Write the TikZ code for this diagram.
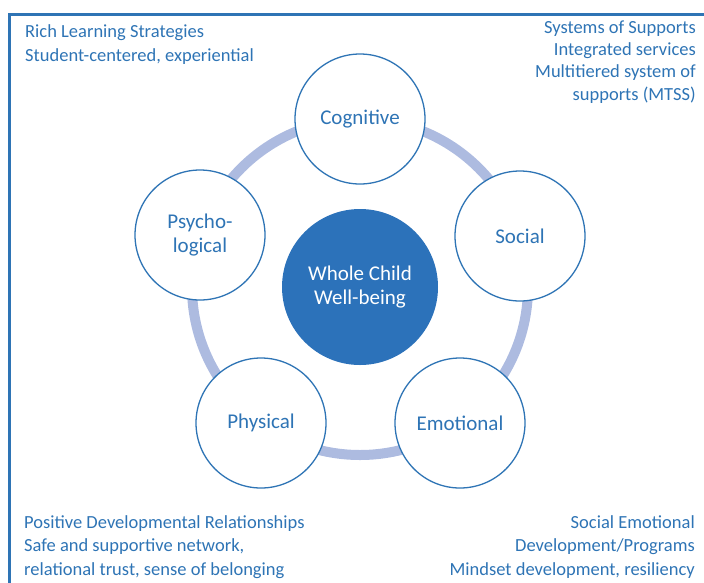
\documentclass[tikz,border=0pt]{standalone}
\usepackage{fontspec}
\setmainfont{Carlito}
\definecolor{accent}{HTML}{2E74B5}
\definecolor{ringblue}{HTML}{ADBBE0}
\definecolor{hubblue}{HTML}{2C72BA}
\tikzset{
  area/.style={circle, draw=accent, line width=1.3pt, fill=white,
    minimum size=130pt, inner sep=0pt, text=accent, align=center,
    font=\fontsize{21}{23.3}\selectfont},
  hub/.style={circle, fill=hubblue, minimum size=156pt, inner sep=0pt,
    text=white, align=center, font=\fontsize{21}{23.5}\selectfont},
  note/.style={text=accent, inner sep=0pt, font=\fontsize{18.5}{23.3}\selectfont},
}
\begin{document}
\begin{tikzpicture}[x=1pt, y=-1pt]
\useasboundingbox (0,0) rectangle (704,582);
% frame: left and top edges
\coordinate (fb) at (9.5,600);
\coordinate (fc) at (9.5,14);
\coordinate (fr) at (720,14);
\draw[accent, line width=3pt] (fb) -- (fc) -- (fr);
% ring joining the five domains
\coordinate (o) at (360,287);
\draw[ringblue, line width=10pt] (o) circle[radius=168];
% hub
\node[hub] (hub) at (o) {Whole Child\\Well-being};
% domains
\node[area] (cog) at (360,119) {Cognitive};
\node[area] (soc) at (520,236) {Social};
\node[area] (emo) at (460,423) {Emotional};
\node[area] (phy) at (261,423) {Physical};
\node[area] (psy) at (200,235) {Psycho-\\logical};
% corner notes (anchored on the baseline of their last line)
\node[note, anchor=base west, align=left] (tl) at (25,61)
  {Rich Learning Strategies\\Student-centered, experiential};
\node[note, anchor=base east, align=right,
      font=\fontsize{18.5}{22.3}\selectfont] (tr) at (696,100)
  {Systems of Supports\\Integrated services\\Multitiered system of\hspace{4pt}\\supports (MTSS)\hspace{2pt}};
\node[note, anchor=base west, align=left] (bl) at (24,575)
  {Positive Developmental Relationships\\Safe and supportive network,\\relational trust, sense of belonging};
\node[note, anchor=base east, align=right] (br) at (695,575)
  {Social Emotional\hspace{3pt}\\Development/Programs\hspace{5pt}\\Mindset development, resiliency};
\end{tikzpicture}
\end{document}
